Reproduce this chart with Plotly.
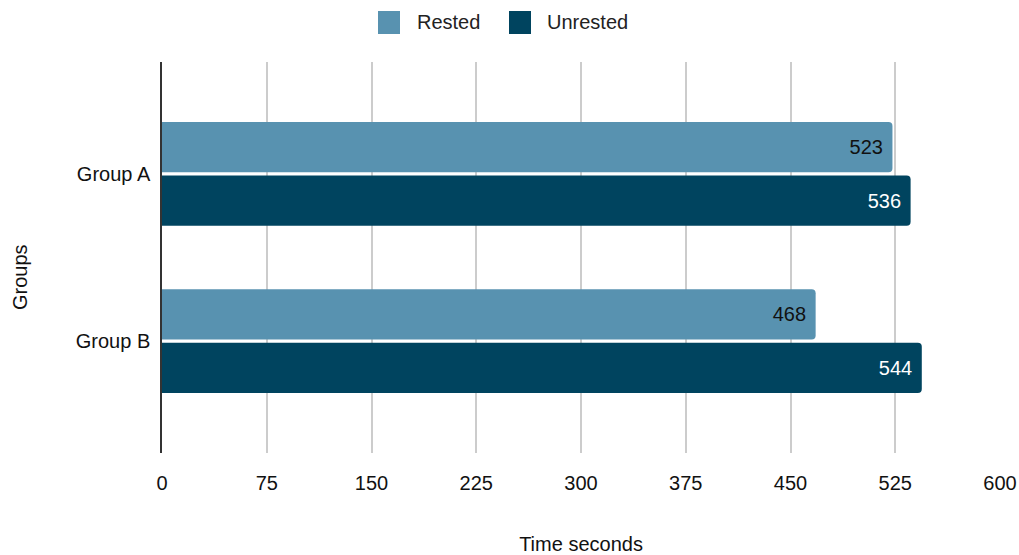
import plotly.graph_objects as go

groups = ["Group A", "Group B"]
rested = [523, 468]
unrested = [536, 544]
x_ticks = [0, 75, 150, 225, 300, 375, 450, 525, 600]
series_names = ["Rested", "Unrested"]

FONT = "Liberation Sans, Arial, sans-serif"
C_RESTED = "#5892B0"
C_UNRESTED = "#00445F"

fig = go.Figure()
fig.add_trace(go.Bar(
    y=groups, x=rested, orientation="h", name=series_names[0], showlegend=False,
    marker=dict(color=C_RESTED, cornerradius=4, line=dict(width=0)),
    text=[f"{v}\u00a0" for v in rested], textposition="inside", insidetextanchor="end",
    textfont=dict(color="#111111", size=20, family=FONT),
))
fig.add_trace(go.Bar(
    y=groups, x=unrested, orientation="h", name=series_names[1], showlegend=False,
    marker=dict(color=C_UNRESTED, cornerradius=4, line=dict(width=0)),
    text=[f"{v}\u00a0" for v in unrested], textposition="inside", insidetextanchor="end",
    textfont=dict(color="#FFFFFF", size=20, family=FONT),
))

# plot area in pixels: left 162, right 1000, top 62, bottom 453
L, R, T, B = 162, 1000, 62, 453
def px(xp):
    return (xp - L) / (R - L)
def py(yp):
    return (B - yp) / (B - T)

# custom legend (large rounded square swatches)
legend_items = [(series_names[0], C_RESTED, 378, 415), (series_names[1], C_UNRESTED, 509, 545)]
shapes = []
annotations = []
for name, col, sx, tx in legend_items:
    shapes.append(dict(type="rect", xref="paper", yref="paper",
                       x0=px(sx), x1=px(sx + 22), y0=py(34), y1=py(11),
                       fillcolor=col, line=dict(width=0), layer="above"))
    annotations.append(dict(text=name, xref="paper", yref="paper", x=px(tx), y=py(22),
                            xanchor="left", yanchor="middle", showarrow=False,
                            font=dict(size=20, color="#222222")))
annotations.append(dict(text="Groups", xref="paper", yref="paper", x=px(20), y=py(277),
                        xanchor="center", yanchor="middle", textangle=-90, showarrow=False,
                        font=dict(size=20, color="#111111")))

fig.update_layout(
    template="none",
    width=1019, height=555,
    margin=dict(l=L, r=1019 - R, t=T, b=555 - B, autoexpand=False),
    paper_bgcolor="white", plot_bgcolor="white",
    font=dict(family=FONT, size=20, color="#111111"),
    barmode="group", bargap=0.36, bargroupgap=0.06,
    showlegend=False,
    shapes=shapes, annotations=annotations,
    xaxis=dict(range=[0, 600], tickvals=x_ticks, ticktext=[str(t) for t in x_ticks],
               showgrid=True, gridcolor="#CCCCCC", gridwidth=1.5, zeroline=False,
               showline=False, ticks="", ticklabelstandoff=16, automargin=False,
               title=dict(text="Time seconds", font=dict(size=20), standoff=46)),
    yaxis=dict(range=[1.67, -0.67], showgrid=False, zeroline=False,
               showline=True, linecolor="#333333", linewidth=1.5,
               ticks="", ticklabelstandoff=6, automargin=False),
)
fig.update_traces(textangle=0, selector=dict(type="bar"))

fig.write_html("out.html")
